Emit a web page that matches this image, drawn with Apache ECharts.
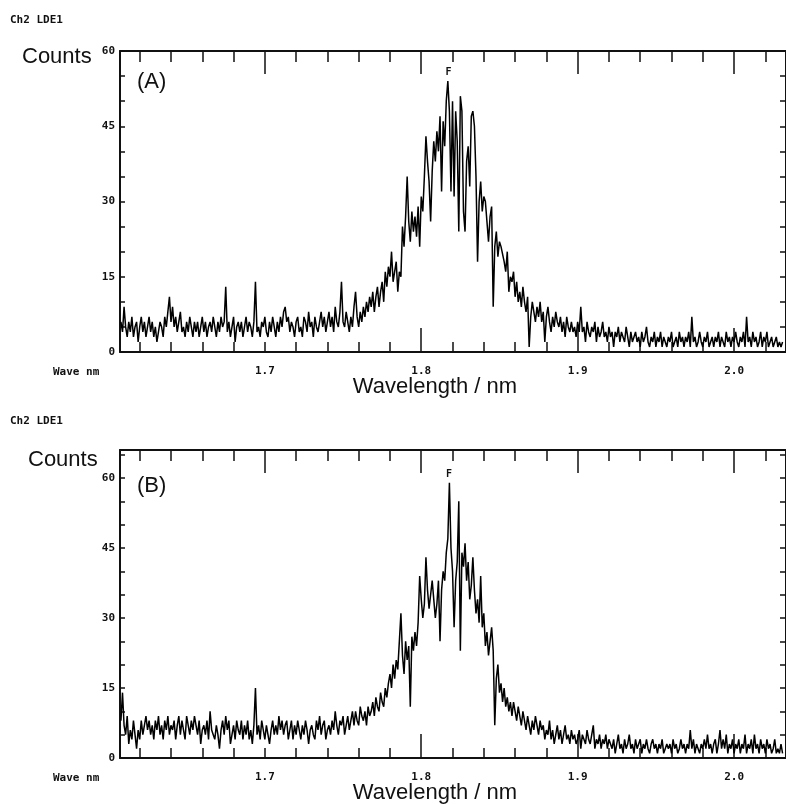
<!DOCTYPE html>
<html>
<head>
<meta charset="utf-8">
<script src="https://cdn.jsdelivr.net/npm/echarts@6/dist/echarts.min.js"></script>
<style>
html,body{margin:0;padding:0;background:#fff;}
#c{width:786px;height:804px;}
</style>
</head>
<body>
<div id="c"></div>
<script>
// Sampling grid of the spectra (nm)
const waveStart = 1.608;
const waveStep = 0.001;

// Panel (A) counts, one row per 0.01 nm
const countsA = [
6,4,9,5,3,6,4,7,3,5,
6,2,5,7,4,6,3,5,7,4,
6,3,5,2,4,6,5,3,7,5,
8,11,6,9,5,7,4,6,8,4,
5,3,6,4,7,5,3,6,4,6,
3,5,7,4,6,3,5,6,4,7,
5,3,6,4,7,5,6,13,4,6,
3,5,7,2,5,6,4,6,3,5,
7,4,6,5,3,6,14,4,5,3,
6,5,7,4,3,6,4,7,5,3,
6,4,7,5,8,9,6,7,4,6,
5,3,6,7,4,5,3,7,6,4,
8,5,6,3,7,5,4,6,8,5,
7,4,6,8,5,7,4,9,6,5,
8,14,6,5,8,6,4,7,5,9,
12,7,5,8,6,9,7,10,8,11,
9,12,8,11,13,9,12,14,10,16,
13,17,15,20,14,16,18,12,16,15,
25,21,27,35,26,22,28,24,27,23,
29,21,31,28,35,43,38,34,26,36,
42,38,44,40,47,32,46,41,50,54,
48,32,50,31,48,42,24,51,48,28,
24,38,41,33,47,48,45,35,18,30,
34,28,31,30,30,22,27,29,9,21,
24,19,22,21,21,18,16,20,12,15,
14,16,11,14,10,12,9,13,10,8,
11,1,7,10,8,6,9,7,10,6,
8,2,7,9,6,4,7,5,8,6,
5,7,4,6,3,7,5,4,6,4,
5,3,6,4,9,4,5,2,6,4,
3,5,4,6,2,5,3,4,6,3,
4,2,5,3,4,1,4,3,5,2,
4,3,2,5,3,1,4,2,3,4,
2,3,1,4,2,3,5,2,1,3,
2,4,1,3,2,4,1,3,2,1,
3,2,4,1,2,3,1,4,2,3,
1,3,2,4,1,7,2,3,1,2,
4,2,1,3,2,4,1,2,3,1,
3,2,4,1,3,2,1,4,2,3,
1,3,2,4,2,1,3,2,4,1,
7,2,3,1,4,2,3,1,2,4,
1,3,2,4,1,2,3,1,2,3,
1,2,1,2
];

// Panel (B) counts, one row per 0.01 nm
const countsB = [
8,14,7,5,9,3,6,4,8,5,
2,6,4,8,5,7,9,6,8,5,
7,4,8,6,9,5,7,4,8,6,
9,5,7,6,8,4,7,9,5,8,
6,4,9,7,5,8,6,9,7,5,
8,3,6,7,5,8,4,10,6,5,
4,7,5,2,6,8,5,9,6,8,
3,5,7,4,8,6,5,8,4,7,
5,8,4,6,3,7,15,5,7,4,
8,6,4,7,5,3,6,8,5,7,
5,9,6,8,5,7,8,4,6,8,
4,7,5,8,6,4,7,5,8,6,
3,6,7,5,4,8,6,9,5,7,
8,4,6,7,5,8,6,10,7,5,
8,7,9,5,7,9,6,8,10,7,
10,8,7,11,9,8,10,7,11,9,
10,12,9,13,11,10,14,12,11,15,
13,16,18,15,20,17,21,19,19,31,
22,18,25,21,24,11,26,23,27,24,
29,39,34,30,33,43,36,32,35,38,
34,30,33,38,25,36,40,38,44,47,
59,45,40,28,38,42,55,23,44,41,
46,38,42,34,37,43,36,31,34,29,
39,28,31,24,27,22,25,28,23,7,
17,20,14,16,12,15,11,13,10,12,
9,12,10,8,11,9,7,10,8,6,
9,7,5,8,6,9,7,5,8,6,
7,4,6,5,8,4,6,3,5,7,
4,6,3,5,7,4,5,3,6,4,
5,3,4,6,2,5,4,3,6,4,
3,5,7,2,4,3,5,2,4,3,
5,2,4,3,2,4,1,3,5,2,
3,1,4,2,3,5,2,3,1,4,
2,3,4,1,3,2,4,2,1,3,
4,2,3,1,3,2,4,1,2,3,
2,3,1,4,2,3,1,2,4,2,
3,1,3,2,6,2,4,1,3,2,
1,3,2,4,2,5,2,3,1,3,
4,1,3,6,2,4,2,5,1,3,
2,4,1,3,2,4,1,3,2,5,
1,3,2,4,1,5,2,3,1,4,
2,3,1,4,2,3,1,2,4,1,
2,1,3,1
];

// Axis ticks / labels
const xMajorTicks = [1.7, 1.8, 1.9, 2.0];
const xBottomLongTicks = [1.8, 1.9, 2.0];
const xMinorTicks = [1.62,1.64,1.66,1.68,1.72,1.74,1.76,1.78,1.82,1.84,1.86,1.88,1.92,1.94,1.96,1.98,2.02];
const yLabelValues = [0, 15, 30, 45, 60];
const peakA = [1.8175, 54];
const peakB = [1.8178, 59];

const xMin = 1.6074, xMax = 2.0332;
const monoFont = '"DejaVu Sans Mono", monospace';
const sansFont = '"Liberation Sans", Arial, sans-serif';
const ink = '#111';

function toPairs(vals){ return vals.map((v,i)=>[+(waveStart + i*waveStep).toFixed(4), v]); }

function xAxesFor(gi){
  const base = {type:'value', gridIndex:gi, min:xMin, max:xMax, splitLine:{show:false}};
  return [
    Object.assign({}, base, {position:'bottom',
      axisLine:{show:true, lineStyle:{color:ink, width:2}},
      axisTick:{show:true, inside:true, length:24, customValues:xBottomLongTicks, lineStyle:{color:ink, width:1.5}},
      axisLabel:{show:true, customValues:xMajorTicks, formatter:v=>(+v).toFixed(1), fontFamily:monoFont, fontWeight:'bold', fontSize:11, color:ink, margin:14}}),
    Object.assign({}, base, {position:'bottom',
      axisLine:{show:false},
      axisTick:{show:true, inside:true, length:10, customValues:xMinorTicks.concat([1.7]), lineStyle:{color:ink, width:1.5}},
      axisLabel:{show:false}}),
    Object.assign({}, base, {position:'top',
      axisLine:{show:true, lineStyle:{color:ink, width:2}},
      axisTick:{show:true, inside:true, length:23, customValues:xMajorTicks, lineStyle:{color:ink, width:1.5}},
      axisLabel:{show:false}}),
    Object.assign({}, base, {position:'top',
      axisLine:{show:false},
      axisTick:{show:true, inside:true, length:11, customValues:xMinorTicks, lineStyle:{color:ink, width:1.5}},
      axisLabel:{show:false}})
  ];
}
function yAxesFor(gi, ymax){
  const base = {type:'value', gridIndex:gi, min:0, max:ymax, interval:5, splitLine:{show:false}};
  return [
    Object.assign({}, base, {position:'left',
      axisLine:{show:true, lineStyle:{color:ink, width:2}},
      axisTick:{show:true, inside:true, length:5, lineStyle:{color:ink, width:1.5}},
      axisLabel:{show:true, customValues:yLabelValues, fontFamily:monoFont, fontWeight:'bold', fontSize:11, color:ink, margin:5}}),
    Object.assign({}, base, {position:'right',
      axisLine:{show:true, lineStyle:{color:ink, width:2}},
      axisTick:{show:true, inside:true, length:6, lineStyle:{color:ink, width:1.5}},
      axisLabel:{show:false}})
  ];
}

function seriesFor(vals, xi, yi, peak){
  return {
    type:'line', xAxisIndex:xi, yAxisIndex:yi, data:toPairs(vals),
    showSymbol:false, symbol:'none', silent:true,
    lineStyle:{color:'#000', width:1.5},
    markPoint:{symbol:'circle', symbolSize:1, itemStyle:{color:'rgba(0,0,0,0)'},
      label:{show:true, position:'top', distance:3, formatter:'F', fontFamily:monoFont, fontWeight:'bold', fontSize:10, color:ink},
      data:[{coord:peak}]}
  };
}

const chart = echarts.init(document.getElementById('c'), null, {renderer:'canvas'});
chart.setOption({
  animation:false,
  backgroundColor:'#fff',
  grid:[
    {left:120, top:51, width:670, height:301},
    {left:120, top:450, width:670, height:308}
  ],
  xAxis: xAxesFor(0).concat(xAxesFor(1)),
  yAxis: yAxesFor(0, 60).concat(yAxesFor(1, 66)),
  series:[
    seriesFor(countsA, 0, 0, peakA),
    seriesFor(countsB, 4, 2, peakB)
  ],
  graphic:[
    {type:'text', x:10, y:20, style:{text:'Ch2 LDE1', font:'bold 11px '+monoFont, fill:ink, verticalAlign:'middle'}},
    {type:'text', x:22, y:57, style:{text:'Counts', font:'22px '+sansFont, fill:ink, verticalAlign:'middle'}},
    {type:'text', x:137, y:82, style:{text:'(A)', font:'22px '+sansFont, fill:ink, verticalAlign:'middle'}},
    {type:'text', x:53, y:372, style:{text:'Wave nm', font:'bold 11px '+monoFont, fill:ink, verticalAlign:'middle'}},
    {type:'text', x:435, y:387, style:{text:'Wavelength / nm', font:'22px '+sansFont, fill:ink, align:'center', verticalAlign:'middle'}},
    {type:'text', x:10, y:421, style:{text:'Ch2 LDE1', font:'bold 11px '+monoFont, fill:ink, verticalAlign:'middle'}},
    {type:'text', x:28, y:460, style:{text:'Counts', font:'22px '+sansFont, fill:ink, verticalAlign:'middle'}},
    {type:'text', x:137, y:486, style:{text:'(B)', font:'22px '+sansFont, fill:ink, verticalAlign:'middle'}},
    {type:'text', x:53, y:778, style:{text:'Wave nm', font:'bold 11px '+monoFont, fill:ink, verticalAlign:'middle'}},
    {type:'text', x:435, y:793, style:{text:'Wavelength / nm', font:'22px '+sansFont, fill:ink, align:'center', verticalAlign:'middle'}}
  ]
});
</script>
</body>
</html>
